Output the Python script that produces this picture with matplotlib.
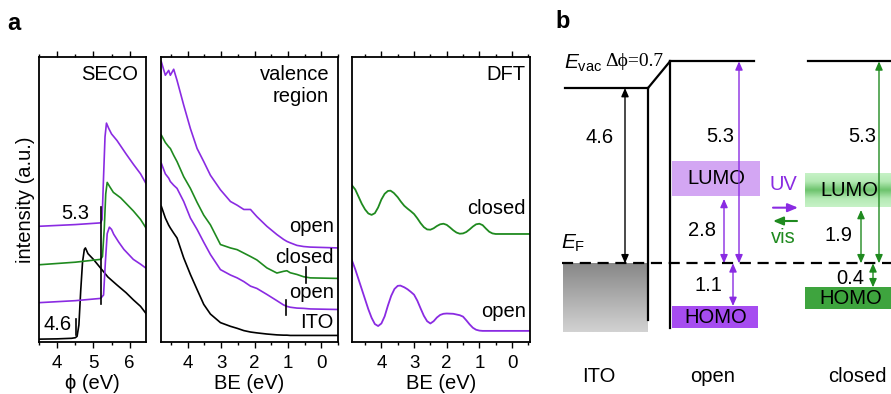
import matplotlib
matplotlib.use('Agg')
import matplotlib.pyplot as plt
from matplotlib.ticker import MultipleLocator
from matplotlib.colors import LinearSegmentedColormap
import numpy as np

plt.rcParams['font.family'] = ['Liberation Sans', 'DejaVu Sans']
plt.rcParams['mathtext.fontset'] = 'custom'
plt.rcParams['mathtext.rm'] = 'Liberation Sans'
plt.rcParams['mathtext.it'] = 'Liberation Sans:italic'

VIOLET = '#8a2be2'
GREEN = '#1f8a1f'
FS = 14.5      # text size in panels
TICK_FS = 13.5

# ---- panel a, SECO (work function, eV) ----
seco_ito_x = [3.5, 4.0, 4.4, 4.5, 4.55, 4.6, 4.65, 4.7, 4.75, 4.78, 4.85, 5.0, 5.2, 5.4, 5.65, 5.9, 6.1, 6.3, 6.45]
seco_ito_y = [1.0, 1.1, 1.3, 1.5, 2.0, 6, 18, 28, 32.5, 33, 31, 29, 25.9, 22.8, 20, 17.3, 14.8, 12.5, 10]
seco_open1_x = [3.5, 4.5, 5.2, 5.28, 5.33, 5.38, 5.44, 5.5, 5.56, 5.7, 5.84, 6.1, 6.3, 6.45]
seco_open1_y = [13.8, 14.5, 15.3, 16.5, 28, 38, 40.3, 39.5, 37.8, 35, 32.5, 29, 27.3, 25.9]
seco_closed_x = [3.5, 4.5, 5.2, 5.25, 5.3, 5.34, 5.38, 5.45, 5.55, 5.75, 6.1, 6.3, 6.45]
seco_closed_y = [27.1, 28, 29, 30, 40, 52, 56, 54.5, 52.5, 50.6, 46, 43, 40]
seco_open2_x = [3.5, 4.5, 5.2, 5.24, 5.28, 5.32, 5.36, 5.42, 5.5, 5.65, 5.9, 6.1, 6.3, 6.45]
seco_open2_y = [40.6, 41.2, 41.8, 43, 58, 72, 76.8, 75, 73, 70.7, 66, 62.4, 59, 55.6]
wf_ito, wf_mol = 4.6, 5.3

# ---- panel a, valence region (BE, eV) ----
val_x = [4.79, 4.67, 4.57, 4.52, 4.42, 4.32, 4.12, 3.92, 3.72, 3.52, 3.32, 3.02, 2.72, 2.52, 2.32,
         2.12, 1.93, 1.63, 1.33, 1.13, 1.03, 0.93, 0.73, 0.53, 0.33, -0.52]
val_ito = [47.6, 43.5, 41.0, 40.0, 38.2, 36.5, 29.5, 23.7, 18.4, 13.2, 9.8, 6.8, 5.5, 4.8, 4.0,
           3.5, 3.2, 2.8, 2.5, 2.4, 2.4, 2.3, 2.3, 2.3, 2.3, 2.3]
val_open1 = [62.7, 59.0, 57.5, 56.3, 55.0, 53.9, 49.3, 43.5, 39.5, 35.0, 30.7, 25.4, 23.5, 22.5, 21.2,
             19.6, 18.8, 16.7, 14.5, 13.0, 12.5, 12.2, 11.9, 11.8, 11.6, 11.4]
val_closed = [72.6, 70.0, 68.5, 67.9, 65.5, 63.3, 58.0, 53.9, 49.0, 44.5, 41.1, 34.2, 33.0, 32.4, 31.2,
              30.0, 28.8, 26.0, 24.2, 24.8, 25.0, 24.3, 23.7, 22.9, 22.5, 22.3]
val_open2 = [98.3, 93.6, 95.3, 93.6, 95.7, 91.8, 83.1, 74.9, 67.9, 63.3, 58.5, 53.4, 49.3, 48.0, 46.5,
             46.5, 44.0, 40.6, 37.7, 36.0, 35.3, 34.8, 33.9, 33.5, 33.3, 33.0]
vbm_open, vbm_closed = 1.07, 0.46

# ---- panel a, DFT (BE, eV) ----
dft_closed_x = [4.91, 4.8, 4.7, 4.6, 4.5, 4.4, 4.3, 4.2, 4.1, 4.0, 3.9, 3.8, 3.72, 3.62, 3.5, 3.4,
                3.3, 3.2, 3.1, 3.0, 2.9, 2.8, 2.7, 2.6, 2.5, 2.4, 2.3, 2.2, 2.1, 2.0, 1.9, 1.8,
                1.7, 1.6, 1.5, 1.4, 1.3, 1.2, 1.1, 1.0, 0.9, 0.8, 0.7, 0.6, 0.5, -0.55]
dft_closed_y = [55.1, 53.5, 51.0, 48.5, 46.5, 45.1, 44.6, 45.2, 47.2, 50.0, 52.0, 53.0, 53.1, 52.3, 50.8, 49.2,
                47.8, 46.8, 45.9, 44.9, 43.4, 41.7, 40.3, 39.5, 39.4, 39.9, 40.7, 41.3, 41.5, 41.1, 40.2, 39.2,
                38.4, 38.0, 38.1, 38.6, 39.5, 40.5, 41.3, 41.5, 41.0, 39.8, 38.7, 38.1, 37.9, 37.9]
dft_open_x = [4.91, 4.8, 4.7, 4.6, 4.5, 4.4, 4.3, 4.2, 4.1, 4.0, 3.9, 3.8, 3.7, 3.6, 3.5, 3.42,
              3.3, 3.2, 3.1, 3.0, 2.9, 2.8, 2.7, 2.6, 2.5, 2.4, 2.3, 2.2, 2.1, 2.0, 1.8, 1.6,
              1.5, 1.4, 1.3, 1.2, 1.1, 1.0, 0.9, -0.55]
dft_open_y = [28.9, 25.5, 22.0, 18.5, 15.0, 11.5, 8.5, 6.3, 5.6, 6.5, 9.0, 12.8, 16.2, 18.6, 19.7, 19.8,
              19.2, 18.5, 17.6, 16.6, 14.5, 11.8, 9.2, 7.3, 6.5, 7.3, 8.6, 9.5, 9.9, 10.0, 9.9, 9.4,
              8.9, 7.6, 6.2, 5.0, 4.3, 4.0, 3.9, 3.9]

# ---- panel b, energy levels (eV relative to E_F) ----
evac_ito = 4.6
dphi = 0.7
ie_open, ie_closed = 5.3, 5.3
lumo_open_gap, homo_open_gap = 2.8, 1.1
lumo_closed_gap, homo_closed_gap = 1.9, 0.4
# drawn band extents (bottom, top) as they appear in the sketch
lumo_open_box = (1.77, 2.69)
homo_open_box = (-1.70, -1.12)
lumo_closed_box = (1.47, 2.36)
homo_closed_box = (-1.20, -0.63)
ito_box = (-1.80, 0.0)

W, H = 891, 394
fig = plt.figure(figsize=(W / 100, H / 100), dpi=100)


def panel(left, right, top=57, bottom=342):
    return fig.add_axes([left / W, (H - bottom) / H, (right - left) / W, (bottom - top) / H])


def style(ax, xlim, xlabel):
    ax.set_xlim(*xlim)
    ax.set_ylim(0, 100)
    ax.set_yticks([])
    ax.xaxis.set_major_locator(MultipleLocator(1))
    ax.xaxis.set_minor_locator(MultipleLocator(0.5))
    ax.tick_params(which='both', direction='out', top=True, bottom=True, left=False, right=False,
                   labelsize=TICK_FS, width=1)
    ax.tick_params(which='major', length=4, pad=5)
    ax.tick_params(which='minor', length=2.5)
    for s in ax.spines.values():
        s.set_linewidth(1.3)
    ax.set_xlabel(xlabel, fontsize=FS, labelpad=2)


ax1 = panel(39, 146)
ax1.plot(seco_ito_x, seco_ito_y, color='black', lw=1.2)
ax1.plot(seco_open1_x, seco_open1_y, color=VIOLET, lw=1.2)
ax1.plot(seco_closed_x, seco_closed_y, color=GREEN, lw=1.2)
ax1.plot(seco_open2_x, seco_open2_y, color=VIOLET, lw=1.2)
ax1.plot([4.53, 4.53], [2.5, 8.2], color='black', lw=1.2)
ax1.plot([5.22, 5.22], [13.5, 47.3], color='black', lw=1.2)
ax1.text(4.01, 6, f'{wf_ito}', fontsize=FS, ha='center', va='center')
ax1.text(4.5, 45, f'{wf_mol}', fontsize=FS, ha='center', va='center')
ax1.text(0.93, 0.94, 'SECO', transform=ax1.transAxes, fontsize=FS, ha='right', va='center')
style(ax1, (3.5, 6.45), 'ϕ (eV)')
ax1.set_ylabel('intensity (a.u.)', fontsize=FS, labelpad=3)

ax2 = panel(161, 338)
ax2.plot(val_x, val_ito, color='black', lw=1.2)
ax2.plot(val_x, val_open1, color=VIOLET, lw=1.2)
ax2.plot(val_x, val_closed, color=GREEN, lw=1.2)
ax2.plot(val_x, val_open2, color=VIOLET, lw=1.2)
ax2.plot([vbm_open, vbm_open], [9.5, 14.7], color='black', lw=1.2)
ax2.plot([vbm_closed, vbm_closed], [20.6, 26.4], color='black', lw=1.2)
ax2.text(0.95, 0.90, 'valence\nregion', transform=ax2.transAxes, fontsize=FS, ha='right',
         va='center', linespacing=1.15)
for label, yv in [('open', 40.5), ('closed', 29.5), ('open', 17.2), ('ITO', 6.7)]:
    ax2.text(0.975, yv / 100, label, transform=ax2.transAxes, fontsize=FS, ha='right', va='center')
style(ax2, (4.8, -0.5), 'BE (eV)')

ax3 = panel(352, 530)
ax3.plot(dft_closed_x, dft_closed_y, color=GREEN, lw=1.3)
ax3.plot(dft_open_x, dft_open_y, color=VIOLET, lw=1.3)
ax3.text(0.975, 0.94, 'DFT', transform=ax3.transAxes, fontsize=FS, ha='right', va='center')
ax3.text(0.975, 0.47, 'closed', transform=ax3.transAxes, fontsize=FS, ha='right', va='center')
ax3.text(0.975, 0.107, 'open', transform=ax3.transAxes, fontsize=FS, ha='right', va='center')
style(ax3, (4.9, -0.55), 'BE (eV)')

fig.text(14 / W, 1 - 23 / H, 'a', fontsize=17, fontweight='bold', ha='center', va='center')
fig.text(563 / W, 1 - 21 / H, 'b', fontsize=17, fontweight='bold', ha='center', va='center')

# ---- panel b: energy diagram, x in figure pixels, y in eV ----
px_per_ev = 38.1
ef_px = 263.3
axb = fig.add_axes([0, 0, 1, 1])
axb.patch.set_visible(False)
axb.axis('off')
evac_mol = evac_ito + dphi

x_ito0, x_ito1, x_mol = 563, 648, 670


def arrow(x, y0, y1, color, lw=1.0):
    axb.annotate('', xy=(x, y1), xytext=(x, y0),
                 arrowprops=dict(arrowstyle='<|-|>,head_length=0.5,head_width=0.22', color=color,
                                 lw=lw, shrinkA=0, shrinkB=0, mutation_scale=10))


# ITO gray block
grad = np.linspace(0, 1, 64).reshape(-1, 1)
gray = LinearSegmentedColormap.from_list('g', ['#888888', '#d2d2d2'])
axb.imshow(grad, extent=[x_ito0, x_ito1, ito_box[0], ito_box[1]], aspect='auto', cmap=gray,
           origin='upper', zorder=1)

# vacuum levels and interfaces
axb.plot([565, x_ito1], [evac_ito, evac_ito], color='black', lw=1.6)
axb.plot([x_ito1, x_mol], [evac_ito, evac_mol], color='black', lw=1.6)
axb.plot([x_mol, 754], [evac_mol, evac_mol], color='black', lw=1.6)
axb.plot([808, W], [evac_mol, evac_mol], color='black', lw=1.6)
axb.plot([x_ito1, x_ito1], [evac_ito, -1.5], color='black', lw=1.6)
axb.plot([x_mol, x_mol], [evac_mol, -1.7], color='black', lw=1.6)
axb.plot([562, W], [0, 0], color='black', lw=1.6, ls=(0, (5, 3)), zorder=4)

axb.text(564, 5.24, r'$E_{\mathrm{vac}}$', fontsize=15, ha='left', va='center')
axb.text(634, 5.30, f'Δϕ={dphi}', fontsize=14, ha='center', va='center',
         family=['Liberation Serif', 'DejaVu Serif'])
axb.text(561, 0.53, r'$E_{\mathrm{F}}$', fontsize=15, ha='left', va='center')

arrow(625, evac_ito, 0, 'black')
axb.text(600, 3.29, f'{evac_ito}', fontsize=FS, ha='center', va='center')

# open isomer
axb.fill_between([672, 760], *lumo_open_box, color='#d3a6f3', lw=0, zorder=2)
axb.fill_between([672, 758], *homo_open_box, color='#a64cf0', lw=0, zorder=2)
axb.text(716, sum(lumo_open_box) / 2, 'LUMO', fontsize=FS, ha='center', va='center', zorder=3)
axb.text(716, sum(homo_open_box) / 2, 'HOMO', fontsize=FS, ha='center', va='center', zorder=3)
arrow(739, evac_mol, 0, VIOLET)
arrow(724, lumo_open_box[0] - 0.08, 0, VIOLET)
arrow(733, 0, homo_open_box[1], VIOLET)
axb.text(720, 3.34, f'{ie_open}', fontsize=FS, ha='center', va='center')
axb.text(702, 0.87, f'{lumo_open_gap}', fontsize=FS, ha='center', va='center')
axb.text(708, -0.57, f'{homo_open_gap}', fontsize=FS, ha='center', va='center')

# switching arrows
axb.text(783, 2.06, 'UV', fontsize=FS, color=VIOLET, ha='center', va='center')
axb.annotate('', xy=(798, 1.46), xytext=(773, 1.46),
             arrowprops=dict(arrowstyle='-|>,head_length=0.6,head_width=0.25', color=VIOLET, lw=1.5,
                             shrinkA=0, shrinkB=0, mutation_scale=10))
axb.annotate('', xy=(773, 1.11), xytext=(797, 1.11),
             arrowprops=dict(arrowstyle='-|>,head_length=0.6,head_width=0.25', color=GREEN, lw=1.5,
                             shrinkA=0, shrinkB=0, mutation_scale=10))
axb.text(783, 0.67, 'vis', fontsize=FS, color=GREEN, ha='center', va='center')

# closed isomer
band = np.abs(np.linspace(-1, 1, 64)).reshape(-1, 1)
green_band = LinearSegmentedColormap.from_list('gb', ['#6fc46f', '#b4e9b4', '#c6f2c6'])
axb.imshow(band, extent=[805, W, lumo_closed_box[0], lumo_closed_box[1]], aspect='auto',
           cmap=green_band, zorder=2)
axb.fill_between([805, W], *homo_closed_box, color='#3ea43e', lw=0, zorder=2)
axb.text(849, sum(lumo_closed_box) / 2, 'LUMO', fontsize=FS, ha='center', va='center', zorder=3)
axb.text(851, sum(homo_closed_box) / 2, 'HOMO', fontsize=FS, ha='center', va='center', zorder=3)
arrow(879, evac_mol, 0, GREEN)
arrow(861, lumo_closed_box[0] - 0.07, 0, GREEN)
arrow(873, 0, homo_closed_box[1], GREEN)
axb.text(862, 3.34, f'{ie_closed}', fontsize=FS, ha='center', va='center')
axb.text(838, 0.74, f'{lumo_closed_gap}', fontsize=FS, ha='center', va='center')
axb.text(850, -0.39, f'{homo_closed_gap}', fontsize=FS, ha='center', va='center')

for label, xc in [('ITO', 599), ('open', 713), ('closed', 857)]:
    axb.text(xc, -2.98, label, fontsize=FS, ha='center', va='center')

axb.set_xlim(0, W)
axb.set_ylim((ef_px - H) / px_per_ev, ef_px / px_per_ev)

fig.savefig('out.png', dpi=100)
